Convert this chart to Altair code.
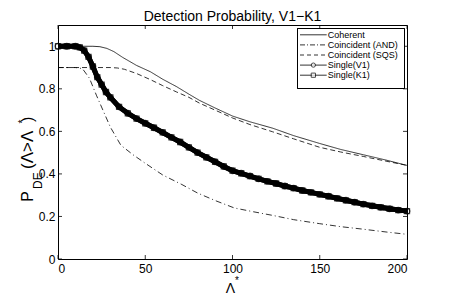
import altair as alt
import pandas as pd

# ---- data ----
series = ["Coherent", "Coincident (AND)", "Coincident (SQS)", "Single(V1)", "Single(K1)"]

coh_x = [0, 10, 20, 24, 28, 32, 37, 45, 53, 60, 68, 75, 81, 90, 100, 110, 123, 135, 150, 162, 175, 188, 200]
coh_y = [1.0, 1.0, 1.0, 0.998, 0.99, 0.975, 0.948, 0.91, 0.88, 0.845, 0.81, 0.775, 0.746, 0.71, 0.672,
         0.645, 0.615, 0.58, 0.543, 0.515, 0.49, 0.465, 0.44]

and_x = [0, 10, 14, 18, 22, 26, 30, 36, 43, 50, 60, 71, 80, 90, 101, 112, 123, 135, 150, 162, 175, 188, 200]
and_y = [0.9, 0.9, 0.895, 0.85, 0.77, 0.695, 0.62, 0.535, 0.49, 0.45, 0.395, 0.35, 0.31, 0.275, 0.24,
         0.222, 0.205, 0.185, 0.166, 0.152, 0.14, 0.127, 0.116]

sqs_x = [0, 10, 20, 30, 34, 38, 45, 53, 60, 68, 75, 81, 90, 100, 110, 123, 135, 150, 162, 175, 188, 200]
sqs_y = [0.9, 0.9, 0.9, 0.9, 0.898, 0.892, 0.872, 0.843, 0.815, 0.785, 0.76, 0.733, 0.70, 0.663, 0.632,
         0.598, 0.565, 0.525, 0.503, 0.482, 0.46, 0.44]

single_x = [0, 5, 10, 12.5, 15, 17.5, 20, 22.5, 25, 27.5, 30, 35, 40, 45, 50, 55, 60, 65, 70, 75, 80, 85,
            90, 95, 100, 105, 110, 115, 120, 125, 130, 135, 140, 145, 150, 155, 160, 165, 170, 175, 180,
            185, 190, 195, 200]
v1_y = [1.0, 1.0, 1.0, 0.995, 0.98, 0.95, 0.905, 0.855, 0.82, 0.785, 0.76, 0.715, 0.685, 0.66, 0.638,
        0.617, 0.595, 0.572, 0.55, 0.525, 0.5, 0.478, 0.457, 0.435, 0.415, 0.403, 0.39, 0.377, 0.365,
        0.355, 0.343, 0.333, 0.322, 0.313, 0.304, 0.295, 0.285, 0.276, 0.267, 0.258, 0.25, 0.243, 0.236,
        0.23, 0.225]
k1_y = list(v1_y)

x_ticks = [0, 50, 100, 150, 200]
y_ticks = [0, 0.2, 0.4, 0.6, 0.8, 1.0]

title_text = "Detection Probability, V1\u2212K1"
y_title_parts = ["P", "DE", "(\u039b>\u039b", "*", ")"]
x_title_parts = ["\u039b", "*"]

# ---- build tables ----
rows = []
for name, xs, ys in [(series[0], coh_x, coh_y), (series[1], and_x, and_y), (series[2], sqs_x, sqs_y),
                     (series[3], single_x, v1_y), (series[4], single_x, k1_y)]:
    for xv, yv in zip(xs, ys):
        rows.append({"series": name, "x": xv, "y": yv})
df = pd.DataFrame(rows)

W, H = 349, 234
FONT = "Liberation Sans"

dashes = [[1, 0], [6, 3, 1, 3], [5, 3]]
legend_dashes = [[1, 0], [5, 2, 1, 2], [4, 3], [1, 0], [1, 0]]
legend_markers = [None, None, None, "circle", "square"]

xsc = alt.Scale(domain=[0, 200], nice=False, zero=False)
ysc = alt.Scale(domain=[0, 1.1], nice=False, zero=False)
xenc = alt.X("x:Q", scale=xsc, title=None,
             axis=alt.Axis(values=x_ticks, format="d", labelPadding=4, ticks=False, domain=False, grid=False))
yenc = alt.Y("y:Q", scale=ysc, title=None,
             axis=alt.Axis(values=y_ticks, format="~g", labelPadding=3, ticks=False, domain=False, grid=False))

base = alt.Chart(df).encode(x=xenc, y=yenc)

thin = base.transform_filter(
    alt.FieldOneOfPredicate(field="series", oneOf=series[:3])
).mark_line(color="black", strokeWidth=0.8).encode(
    strokeDash=alt.StrokeDash("series:N", scale=alt.Scale(domain=series[:3], range=dashes), legend=None),
    detail="series:N",
)

thick = base.transform_filter(
    alt.FieldOneOfPredicate(field="series", oneOf=series[3:])
).mark_line(color="black", strokeWidth=5).encode(detail="series:N")

v1_pts = base.transform_filter(alt.datum.series == series[3]).mark_point(
    shape="circle", filled=False, color="black", size=32, strokeWidth=1.2)
k1_pts = base.transform_filter(alt.datum.series == series[4]).mark_point(
    shape="square", filled=False, color="black", size=26, strokeWidth=1.2)

# ---- legend box (MATLAB style, inside top-right) ----
LX0, LX1, LY0, LY1 = 239.5, 346.5, 3.5, 63.5
SYM0, SYM1, LBL = 242, 268.7, 269.7
ROW0, ROWH = 9.8, 10.1

one = pd.DataFrame({"k": [0]})
legend_layers = [
    alt.Chart(one).mark_rect(fill="white", stroke="black", strokeWidth=1, strokeOpacity=1).encode(
        x=alt.value(LX0), x2=alt.value(LX1), y=alt.value(LY0), y2=alt.value(LY1)),
    alt.Chart(one).mark_rule(color="black", strokeWidth=1).encode(
        x=alt.value(LX0), x2=alt.value(LX1), y=alt.value(LY0)),
    alt.Chart(one).mark_rule(color="black", strokeWidth=1).encode(
        x=alt.value(LX0), x2=alt.value(LX1), y=alt.value(LY1)),
    alt.Chart(one).mark_rule(color="black", strokeWidth=1).encode(
        x=alt.value(LX0), y=alt.value(LY0), y2=alt.value(LY1)),
    alt.Chart(one).mark_rule(color="black", strokeWidth=1).encode(
        x=alt.value(LX1), y=alt.value(LY0), y2=alt.value(LY1)),
]
for i, name in enumerate(series):
    yc = ROW0 + ROWH * i
    ldf = pd.DataFrame({"label": [name]})
    legend_layers.append(
        alt.Chart(ldf).mark_rule(color="black", strokeWidth=0.8, strokeDash=legend_dashes[i]).encode(
            x=alt.value(SYM0), x2=alt.value(SYM1), y=alt.value(yc)))
    if legend_markers[i]:
        legend_layers.append(
            alt.Chart(ldf).mark_point(shape=legend_markers[i], filled=True, fill="white", stroke="black",
                                      size=18, strokeWidth=1).encode(
                x=alt.value((SYM0 + SYM1) / 2), y=alt.value(yc)))
    legend_layers.append(
        alt.Chart(ldf).mark_text(font=FONT, fontSize=9, align="left", baseline="middle", color="black").encode(
            text="label:N", x=alt.value(LBL), y=alt.value(yc)))

# inward tick marks (MATLAB style)
xt = alt.Chart(pd.DataFrame({"t": x_ticks}))
yt = alt.Chart(pd.DataFrame({"t": y_ticks}))
tick_layers = [
    xt.mark_rule(color="black", strokeWidth=0.8).encode(x=alt.X("t:Q", scale=xsc), y=alt.value(H), y2=alt.value(H - 4)),
    xt.mark_rule(color="black", strokeWidth=0.8).encode(x=alt.X("t:Q", scale=xsc), y=alt.value(0), y2=alt.value(4)),
    yt.mark_rule(color="black", strokeWidth=0.8).encode(y=alt.Y("t:Q", scale=ysc), x=alt.value(0), x2=alt.value(4)),
    yt.mark_rule(color="black", strokeWidth=0.8).encode(y=alt.Y("t:Q", scale=ysc), x=alt.value(W), x2=alt.value(W - 4)),
]

# titles as text pieces (subscript / superscript)
def txt(s, x, y, size, angle=0, align="left"):
    return alt.Chart(pd.DataFrame({"t": [s]})).mark_text(
        font=FONT, fontSize=size, angle=angle, align=align, baseline="alphabetic", color="black"
    ).encode(text="t:N", x=alt.value(x), y=alt.value(y))

title_layers = [
    txt(title_text, W / 2, -4, 14, 0, "center"),
    txt(y_title_parts[0], -24.7, 176.7, 16, 270),
    txt(y_title_parts[1], -16.3, 164, 12, 270),
    txt(y_title_parts[2], -25, 144, 17, 270),
    txt(y_title_parts[3], -32, 98.5, 10, 270),
    txt(y_title_parts[4], -25, 97, 16, 270),
    txt(x_title_parts[0], 172.5, 268, 14, 0, "center"),
    txt(x_title_parts[1], 177, 259, 10, 0, "left"),
]

chart = alt.layer(thin, thick, v1_pts, k1_pts, *tick_layers, *legend_layers, *title_layers).properties(
    width=W, height=H,
    autosize=alt.AutoSizeParams(type="none"),
    padding={"left": 50, "top": 17, "right": 35, "bottom": 37},
).configure_view(stroke="black", strokeWidth=1).configure_axis(
    labelFont=FONT, labelFontSize=12, labelColor="black"
)

chart.save("out.html", embed_options={"renderer": "svg", "actions": False})
